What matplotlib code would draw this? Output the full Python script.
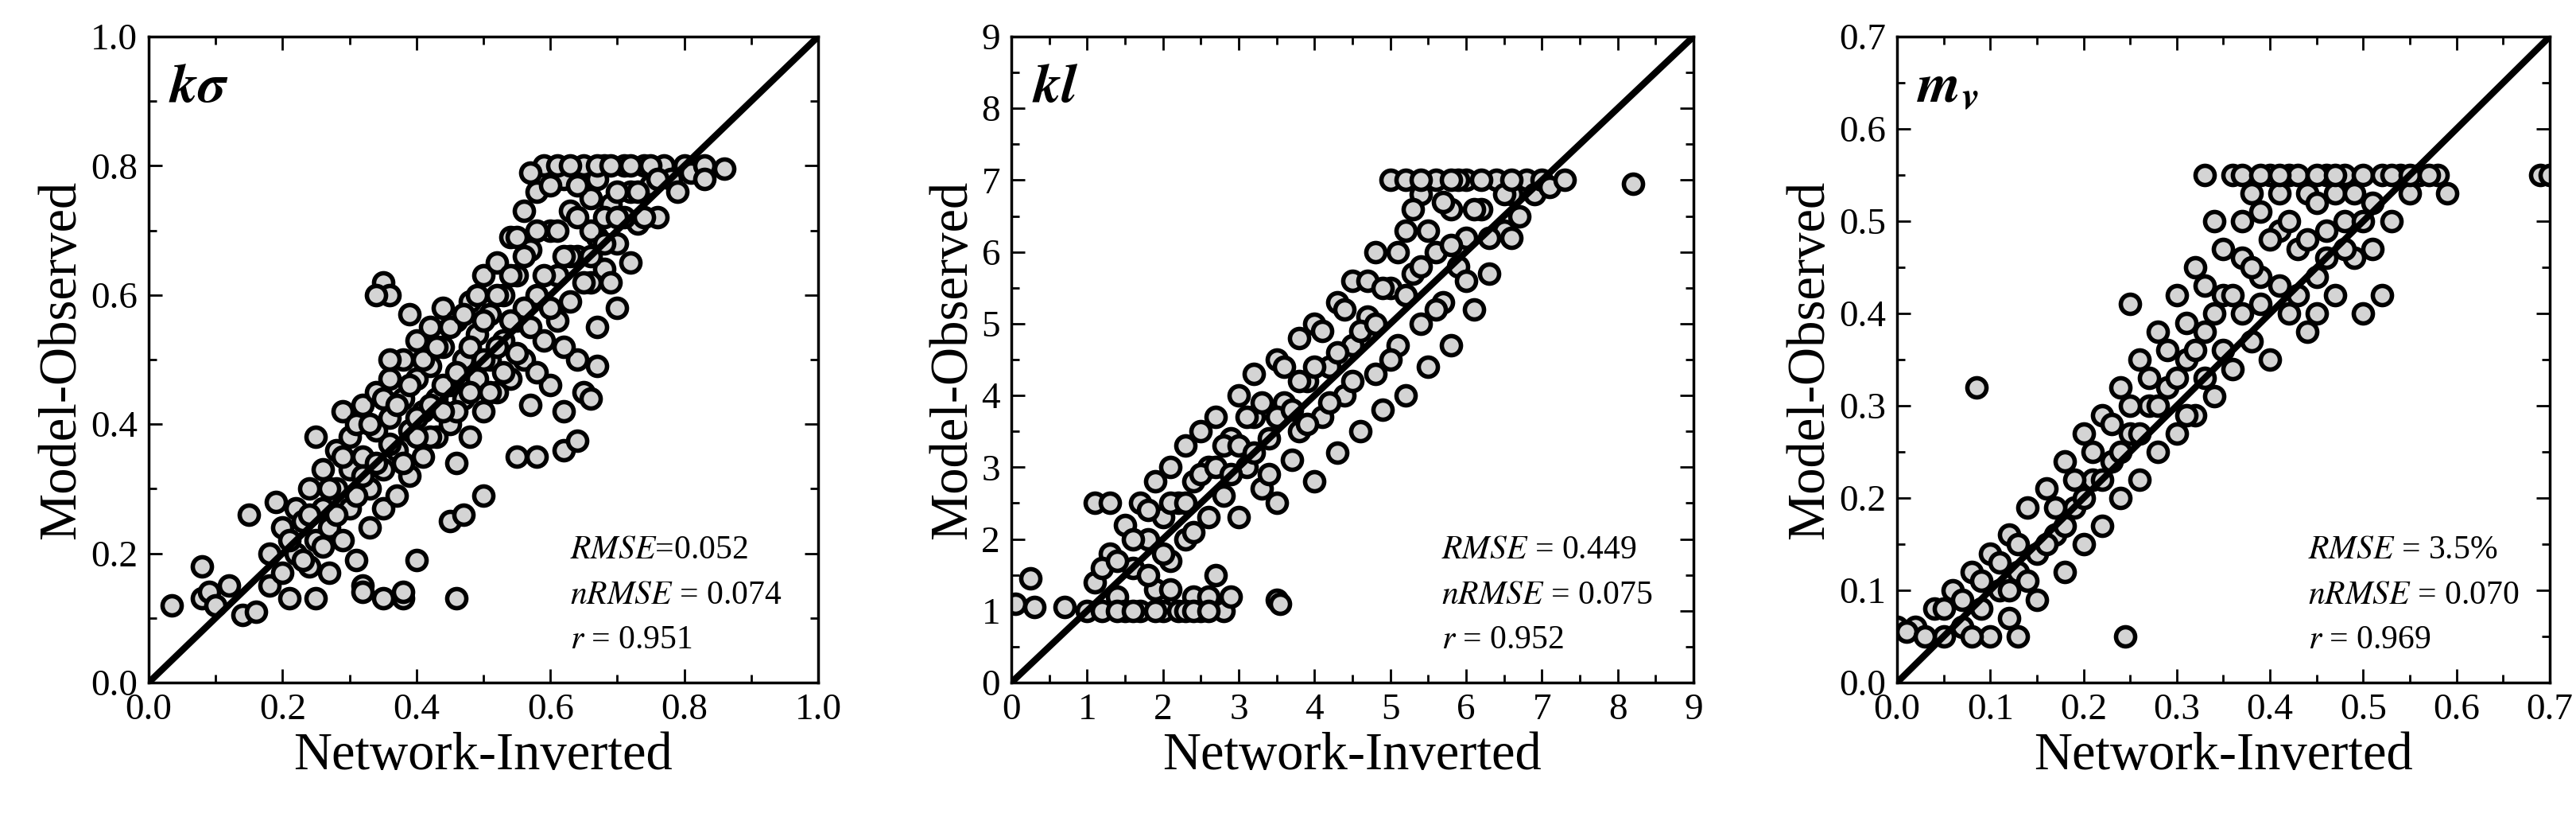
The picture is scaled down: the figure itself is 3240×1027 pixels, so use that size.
import numpy as np
import matplotlib.pyplot as plt
from matplotlib.ticker import MultipleLocator

plt.rcParams['font.family'] = ['Liberation Serif', 'DejaVu Serif']
plt.rcParams['mathtext.fontset'] = 'stix'

# k-sigma panel
ks_pts = [(0.18,0.20),(0.18,0.15),(0.20,0.24),(0.20,0.17),(0.21,0.13),(0.22,0.27),(0.22,0.20),(0.23,0.25),
          (0.24,0.30),(0.24,0.18),(0.25,0.22),(0.25,0.13),(0.26,0.33),(0.26,0.27),(0.27,0.24),(0.27,0.17),
          (0.28,0.36),(0.28,0.30),(0.29,0.22),(0.30,0.38),(0.30,0.33),(0.30,0.27),(0.31,0.19),(0.32,0.43),
          (0.32,0.35),(0.33,0.30),(0.33,0.24),(0.34,0.45),(0.34,0.39),(0.35,0.33),(0.35,0.27),(0.36,0.47),
          (0.36,0.41),(0.37,0.36),(0.37,0.29),(0.38,0.50),(0.38,0.44),(0.39,0.39),(0.39,0.32),(0.40,0.53),
          (0.40,0.47),(0.41,0.42),(0.41,0.35),(0.42,0.55),(0.42,0.49),(0.43,0.44),(0.43,0.38),(0.44,0.58),
          (0.44,0.52),(0.45,0.46),(0.45,0.40),(0.46,0.56),(0.46,0.34),(0.47,0.50),(0.47,0.44),(0.48,0.59),
          (0.48,0.38),(0.49,0.54),(0.49,0.47),(0.50,0.63),(0.50,0.42),(0.51,0.57),(0.51,0.50),(0.52,0.65),
          (0.52,0.45),(0.53,0.60),(0.53,0.53),(0.54,0.69),(0.54,0.47),(0.55,0.63),(0.55,0.56),(0.56,0.73),
          (0.56,0.50),(0.57,0.67),(0.57,0.43),(0.58,0.60),(0.58,0.76),(0.59,0.53),(0.59,0.80),(0.60,0.70),
          (0.60,0.46),(0.61,0.63),(0.61,0.56),(0.62,0.78),(0.62,0.42),(0.63,0.73),(0.63,0.59),(0.64,0.66),
          (0.64,0.50),(0.65,0.80),(0.65,0.45),(0.66,0.75),(0.66,0.62),(0.67,0.69),(0.67,0.55),(0.68,0.80),
          (0.68,0.64),(0.69,0.74),(0.70,0.68),(0.70,0.58),(0.71,0.80),(0.72,0.76),(0.72,0.65),(0.73,0.71),
          (0.74,0.80),(0.75,0.77),(0.76,0.72),(0.77,0.80),(0.78,0.78),(0.80,0.80),(0.79,0.76),(0.81,0.79),
          (0.035,0.12),(0.08,0.18),(0.08,0.13),(0.09,0.14),(0.10,0.12),(0.12,0.15),(0.14,0.105),(0.16,0.11),
          (0.15,0.26),(0.32,0.15),(0.32,0.14),(0.35,0.13),(0.38,0.13),(0.38,0.14),(0.40,0.19),(0.46,0.13),
          (0.45,0.25),(0.47,0.26),(0.50,0.29),(0.55,0.35),(0.58,0.35),(0.62,0.36),(0.64,0.375),(0.66,0.44),
          (0.67,0.49),(0.86,0.795),(0.83,0.80),(0.83,0.78),(0.35,0.62),(0.36,0.60),(0.34,0.60),(0.39,0.57),
          (0.36,0.50),(0.29,0.42),(0.25,0.38),(0.19,0.28),(0.55,0.69),(0.57,0.79)]
ks_more = [(0.21,0.22),(0.23,0.19),(0.24,0.26),(0.26,0.21),(0.27,0.30),(0.28,0.26),(0.29,0.35),(0.31,0.29),
           (0.31,0.40),(0.32,0.32),(0.33,0.40),(0.34,0.34),(0.35,0.44),(0.36,0.37),(0.37,0.43),(0.38,0.34),
           (0.39,0.46),(0.40,0.41),(0.41,0.50),(0.42,0.43),(0.43,0.52),(0.44,0.46),(0.45,0.55),(0.46,0.48),
           (0.47,0.57),(0.48,0.52),(0.49,0.60),(0.50,0.56),(0.51,0.45),(0.52,0.60),(0.53,0.48),(0.54,0.63),
           (0.55,0.51),(0.56,0.66),(0.57,0.55),(0.58,0.70),(0.59,0.63),(0.60,0.77),(0.61,0.70),(0.62,0.52),
           (0.63,0.66),(0.64,0.77),(0.65,0.62),(0.66,0.70),(0.67,0.78),(0.68,0.72),(0.69,0.62),(0.70,0.76),
           (0.71,0.72),(0.72,0.80),(0.73,0.76),(0.74,0.72),(0.75,0.80),(0.76,0.78),(0.60,0.58),(0.58,0.48),
           (0.56,0.58),(0.54,0.56),(0.52,0.52),(0.50,0.50),(0.48,0.45),(0.46,0.42),(0.44,0.42),(0.42,0.38),
           (0.40,0.38),(0.62,0.66),(0.64,0.72),(0.66,0.66),(0.68,0.68),(0.70,0.72),(0.61,0.80),(0.63,0.80),
           (0.67,0.80),(0.69,0.80)]

# kl panel
kl_pts = [(1.0,1.0),(1.1,1.4),(1.2,1.0),(1.3,1.8),(1.4,1.2),(1.5,2.2),(1.5,1.0),(1.6,1.6),(1.7,2.5),(1.7,1.0),
          (1.8,2.0),(1.9,2.8),(1.9,1.3),(2.0,2.3),(2.0,1.0),(2.1,3.0),(2.1,1.7),(2.2,2.5),(2.2,1.0),(2.3,3.3),
          (2.3,2.0),(2.4,1.2),(2.4,2.8),(2.5,3.5),(2.5,1.0),(2.6,2.3),(2.6,3.0),(2.7,3.7),(2.7,1.5),(2.8,2.6),
          (2.9,3.4),(3.0,4.0),(3.0,2.3),(3.1,3.0),(3.2,3.7),(3.2,4.3),(3.3,2.7),(3.4,3.4),(3.5,4.5),(3.5,2.5),
          (3.6,3.9),(3.7,3.1),(3.8,4.8),(3.8,3.5),(3.9,4.2),(4.0,2.8),(4.0,5.0),(4.1,3.7),(4.2,4.4),(4.3,5.3),
          (4.3,3.2),(4.4,4.0),(4.5,5.6),(4.5,4.7),(4.6,3.5),(4.7,5.1),(4.8,6.0),(4.8,4.3),(4.9,3.8),(5.0,5.5),
          (5.0,7.0),(5.1,4.7),(5.2,6.3),(5.2,4.0),(5.3,5.7),(5.4,6.8),(5.4,5.0),(5.5,4.4),(5.6,6.0),(5.6,7.0),
          (5.7,5.3),(5.8,6.6),(5.8,4.7),(5.9,5.8),(6.0,7.0),(6.0,6.2),(6.1,5.2),(6.2,6.6),(6.3,5.7),(6.4,7.0),
          (6.5,6.3),(6.6,6.8),(6.7,6.5),(6.8,7.0),(6.9,6.8),(7.0,7.0),(7.1,6.9),
          (0.05,1.1),(0.25,1.45),(0.3,1.05),(0.7,1.05),(1.1,2.5),(1.3,2.5),(3.5,1.15),(3.55,1.1),(8.2,6.95),
          (7.3,7.0),(2.8,1.0)]
kl_more = [(1.2,1.6),(1.4,1.7),(1.6,2.0),(1.8,1.5),(1.8,2.4),(2.0,1.8),(2.1,2.5),(2.3,2.5),(2.4,2.1),
           (2.5,2.9),(2.6,1.2),(2.7,3.0),(2.8,3.3),(2.9,2.9),(3.0,3.3),(3.1,3.7),(3.2,3.2),(3.3,3.9),(3.4,2.9),
           (3.5,3.7),(3.6,4.4),(3.7,3.8),(3.8,4.2),(3.9,3.6),(4.0,4.4),(4.1,4.9),(4.2,3.9),(4.3,4.6),(4.4,5.2),
           (4.5,4.2),(4.6,4.9),(4.7,5.6),(4.8,5.0),(4.9,5.5),(5.0,4.5),(5.1,6.0),(5.2,5.4),(5.3,6.6),(5.4,5.8),
           (5.5,6.3),(5.6,5.2),(5.7,6.7),(5.8,6.1),(5.9,7.0),(6.0,5.6),(6.1,6.6),(6.2,7.0),(6.3,6.2),(6.5,6.8),
           (6.6,6.2),(5.2,7.0),(5.4,7.0),(5.8,7.0),(6.6,7.0),(1.4,1.0),(1.6,1.0),(1.9,1.0),(2.3,1.0),(2.4,1.0),
           (2.6,1.0),(2.1,1.3),(2.9,1.2)]

# m_v panel
mv_pts = [(0.02,0.06),(0.04,0.08),(0.05,0.05),(0.06,0.10),(0.07,0.06),(0.08,0.12),(0.09,0.08),(0.10,0.14),
          (0.10,0.05),(0.11,0.10),(0.12,0.16),(0.12,0.07),(0.13,0.12),(0.14,0.19),(0.15,0.14),(0.15,0.09),
          (0.16,0.21),(0.17,0.16),(0.18,0.12),(0.18,0.24),(0.19,0.19),(0.20,0.15),(0.20,0.27),(0.21,0.22),
          (0.22,0.17),(0.22,0.29),(0.23,0.24),(0.24,0.20),(0.24,0.32),(0.25,0.27),(0.26,0.22),(0.26,0.35),
          (0.27,0.30),(0.28,0.25),(0.28,0.38),(0.29,0.32),(0.30,0.27),(0.30,0.42),(0.31,0.35),(0.32,0.29),
          (0.32,0.45),(0.33,0.38),(0.34,0.31),(0.34,0.50),(0.35,0.42),(0.36,0.34),(0.36,0.55),(0.37,0.46),
          (0.38,0.37),(0.38,0.53),(0.39,0.44),(0.40,0.35),(0.40,0.55),(0.41,0.49),(0.42,0.40),(0.42,0.55),
          (0.43,0.47),(0.44,0.38),(0.44,0.53),(0.45,0.44),(0.46,0.55),(0.46,0.49),(0.47,0.42),(0.48,0.55),
          (0.48,0.50),(0.49,0.46),(0.50,0.55),(0.51,0.52),(0.52,0.55),(0.53,0.50),(0.54,0.55),(0.55,0.53),
          (0.56,0.55),
          (0.085,0.32),(0.245,0.05),(0.25,0.41),(0.69,0.55),(0.70,0.55),(0.59,0.53),(0.58,0.55),(0.33,0.55),
          (0.50,0.40),(0.52,0.42),(0.13,0.05),(0.0,0.06),(0.01,0.055)]
mv_more = [(0.03,0.05),(0.05,0.08),(0.07,0.09),(0.08,0.05),(0.09,0.11),(0.11,0.13),(0.12,0.10),(0.13,0.15),
           (0.14,0.11),(0.16,0.15),(0.17,0.19),(0.18,0.17),(0.19,0.22),(0.20,0.20),(0.21,0.25),(0.22,0.22),
           (0.23,0.28),(0.24,0.25),(0.25,0.30),(0.26,0.27),(0.27,0.33),(0.28,0.30),(0.29,0.36),(0.30,0.33),
           (0.31,0.39),(0.32,0.36),(0.33,0.43),(0.34,0.40),(0.35,0.47),(0.36,0.42),(0.37,0.50),(0.38,0.45),
           (0.39,0.51),(0.40,0.48),(0.41,0.53),(0.42,0.50),(0.43,0.55),(0.44,0.48),(0.45,0.52),(0.46,0.46),
           (0.47,0.53),(0.48,0.47),(0.49,0.53),(0.50,0.50),(0.51,0.47),(0.53,0.55),(0.55,0.55),(0.57,0.55),
           (0.37,0.55),(0.39,0.55),(0.41,0.55),(0.45,0.55),(0.47,0.55),(0.31,0.29),(0.33,0.33),(0.35,0.36),
           (0.37,0.40),(0.39,0.41),(0.41,0.43),(0.43,0.42),(0.45,0.40)]

names = [r'$\mathbfit{k\sigma}$', r'$\mathbfit{kl}$', r'$\mathbfit{m}_{\mathbfit{v}}$']
stats = [['$RMSE$=0.052', '$nRMSE$ = 0.074', '$r$ = 0.951'],
         ['$RMSE$ = 0.449', '$nRMSE$ = 0.075', '$r$ = 0.952'],
         ['$RMSE$ = 3.5%', '$nRMSE$ = 0.070', '$r$ = 0.969']]
limits = [1.0, 9.0, 0.7]
major = [0.2, 1.0, 0.1]
minor = [0.1, 0.5, 0.05]
all_pts = [ks_pts + ks_more, kl_pts + kl_more, mv_pts + mv_more]
lefts = [187, 1272, 2386]
widths = [842, 858, 821]

fig = plt.figure(figsize=(32.41, 10.27), dpi=100)
for i in range(3):
    ax = fig.add_axes([lefts[i] / 3241, 1 - 858 / 1027, widths[i] / 3241, (858 - 46) / 1027])
    pts = np.array(all_pts[i])
    lim = limits[i]
    ax.scatter(pts[:, 0], pts[:, 1], s=300, facecolor='#d4d4d4', edgecolor='black', linewidth=4, zorder=2)
    ax.plot([0, lim], [0, lim], color='black', lw=6, zorder=3)
    ax.set_xlim(0, lim)
    ax.set_ylim(0, lim)
    ax.xaxis.set_major_locator(MultipleLocator(major[i]))
    ax.yaxis.set_major_locator(MultipleLocator(major[i]))
    ax.xaxis.set_minor_locator(MultipleLocator(minor[i]))
    ax.yaxis.set_minor_locator(MultipleLocator(minor[i]))
    ax.tick_params(which='both', direction='in', top=True, right=True, width=2, labelsize=34, pad=10)
    ax.tick_params(which='major', length=12)
    ax.tick_params(which='minor', length=7)
    for sp in ax.spines.values():
        sp.set_linewidth(2.5)
    ax.set_xlabel('Network-Inverted', fontsize=48)
    ax.set_ylabel('Model-Observed', fontsize=48)
    ax.text(0.03 * lim, 0.92 * lim, names[i], fontsize=50, va='center')
    for j, s in enumerate(stats[i]):
        ax.text(0.63 * lim, (0.205 - 0.07 * j) * lim, s, fontsize=30, va='center')

fig.savefig('out.png', dpi=100)
